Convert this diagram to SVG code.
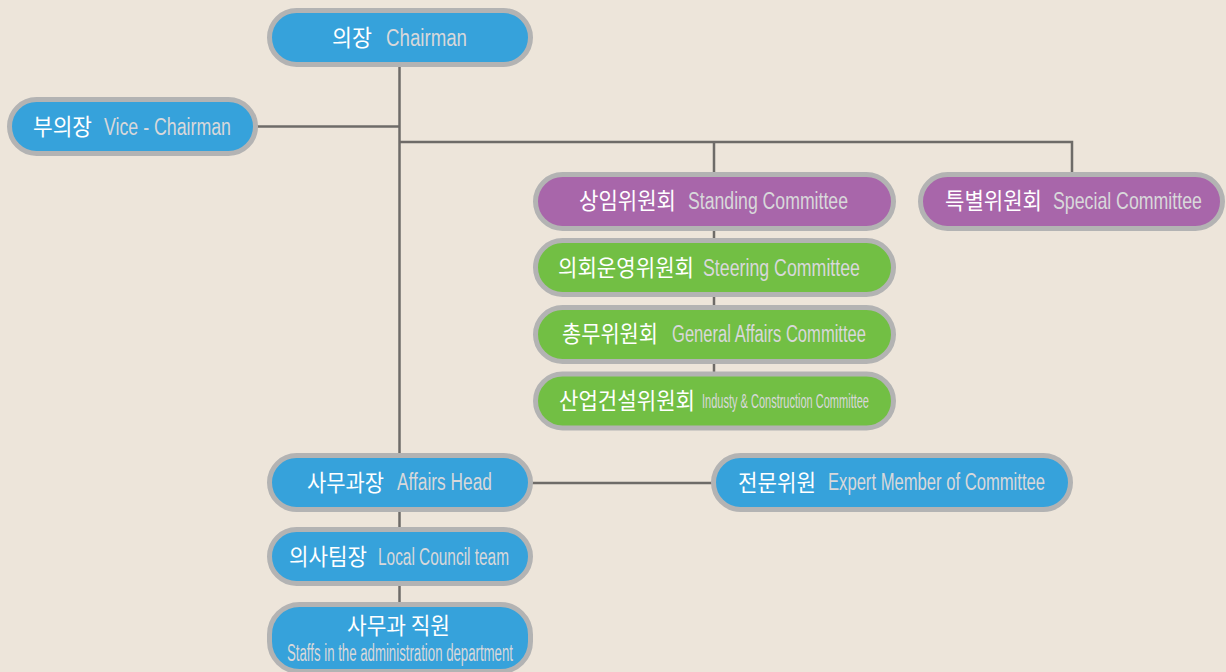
<svg xmlns="http://www.w3.org/2000/svg" width="1226" height="672" viewBox="0 0 1226 672">
<defs>
<style>
.bg{fill:#EDE5DA}
.n{stroke:#B3B3B3;stroke-width:5}
.blue{fill:#36A2DB}
.purple{fill:#A866AA}
.green{fill:#72BF44}
.c{stroke:#6E6B68;stroke-width:2.5;fill:none}
.kr{font-family:"Noto Sans CJK KR","Noto Sans",sans-serif;font-size:22.5px;fill:#FFFFFF}
.en{font-family:"Liberation Sans",Arial,sans-serif;font-size:23px;fill:#D8D8DA}
</style>
</defs>
<rect class="bg" x="0" y="0" width="1226" height="672"/>
<g id="connectors">
<path class="c" d="M399.5 40 V604"/>
<path class="c" d="M240 126.5 H399.5"/>
<path class="c" d="M399.5 142 H1072 V190"/>
<path class="c" d="M714 142 V400"/>
<path class="c" d="M520 483 H730"/>
</g>
<g id="chairman">
<rect class="n blue" x="269.5" y="10.5" width="261" height="54" rx="27"/>
<text class="kr" x="332" y="46" textLength="40" lengthAdjust="spacingAndGlyphs">의장</text>
<text class="en" x="386" y="46" textLength="81" lengthAdjust="spacingAndGlyphs">Chairman</text>
</g>
<g id="vice-chairman">
<rect class="n blue" x="9.5" y="99.5" width="246" height="54" rx="27"/>
<text class="kr" x="33" y="135" textLength="59" lengthAdjust="spacingAndGlyphs">부의장</text>
<text class="en" x="104" y="135" textLength="127" lengthAdjust="spacingAndGlyphs">Vice - Chairman</text>
</g>
<g id="standing">
<rect class="n purple" x="535.5" y="174.5" width="358" height="54" rx="27"/>
<text class="kr" x="579" y="209" textLength="97" lengthAdjust="spacingAndGlyphs">상임위원회</text>
<text class="en" x="688" y="209" textLength="160" lengthAdjust="spacingAndGlyphs">Standing Committee</text>
</g>
<g id="special">
<rect class="n purple" x="920.5" y="174.5" width="302" height="54" rx="27"/>
<text class="kr" x="945" y="209" textLength="97" lengthAdjust="spacingAndGlyphs">특별위원회</text>
<text class="en" transform="translate(1053 209) scale(0.772 1)" x="0" y="0">Special Committee</text>
</g>
<g id="steering">
<rect class="n green" x="535.5" y="240.5" width="358" height="54" rx="27"/>
<text class="kr" x="558" y="276" textLength="136" lengthAdjust="spacingAndGlyphs">의회운영위원회</text>
<text class="en" x="703" y="276" textLength="157" lengthAdjust="spacingAndGlyphs">Steering Committee</text>
</g>
<g id="general">
<rect class="n green" x="535.5" y="307.5" width="358" height="54" rx="27"/>
<text class="kr" x="562" y="342" textLength="96" lengthAdjust="spacingAndGlyphs">총무위원회</text>
<text class="en" x="672" y="342" textLength="194" lengthAdjust="spacingAndGlyphs">General Affairs Committee</text>
</g>
<g id="industry">
<rect class="n green" x="535.5" y="374" width="358" height="54" rx="27"/>
<text class="kr" x="559" y="409" textLength="136" lengthAdjust="spacingAndGlyphs">산업건설위원회</text>
<text class="en" x="702" y="408" textLength="167" lengthAdjust="spacingAndGlyphs" style="font-size:21px">Industy &amp; Construction Committee</text>
</g>
<g id="affairs-head">
<rect class="n blue" x="269.5" y="455.5" width="261" height="54" rx="27"/>
<text class="kr" x="307" y="491" textLength="77" lengthAdjust="spacingAndGlyphs">사무과장</text>
<text class="en" x="397" y="490" textLength="95" lengthAdjust="spacingAndGlyphs">Affairs Head</text>
</g>
<g id="expert">
<rect class="n blue" x="713.5" y="455.5" width="357" height="54" rx="27"/>
<text class="kr" x="738" y="491" textLength="78" lengthAdjust="spacingAndGlyphs">전문위원</text>
<text class="en" x="828" y="490" textLength="217" lengthAdjust="spacingAndGlyphs">Expert Member of Committee</text>
</g>
<g id="local-council">
<rect class="n blue" x="269.5" y="529.5" width="261" height="54" rx="27"/>
<text class="kr" x="289" y="565" textLength="78" lengthAdjust="spacingAndGlyphs">의사팀장</text>
<text class="en" x="378" y="565" textLength="131" lengthAdjust="spacingAndGlyphs">Local Council team</text>
</g>
<g id="staffs">
<rect class="n blue" x="269.5" y="604.5" width="261" height="67" rx="30"/>
<text class="kr" x="347" y="634" textLength="103" lengthAdjust="spacingAndGlyphs">사무과 직원</text>
<text class="en" x="287" y="661" textLength="226" lengthAdjust="spacingAndGlyphs">Staffs in the administration department</text>
</g>
</svg>
